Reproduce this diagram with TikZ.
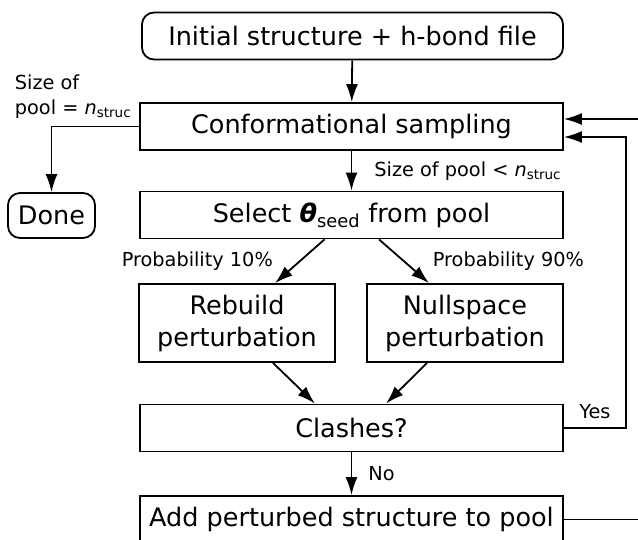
\documentclass[tikz,border=0pt]{standalone}
\usepackage{fontspec}
\setmainfont{DejaVu Sans}
\usetikzlibrary{arrows.meta}

\begin{document}
\begin{tikzpicture}[x=1pt,y=-1pt,line width=1.8pt,
  >={Latex[length=18pt,width=12pt]},
  box/.style={draw,minimum width=423pt,minimum height=47pt,inner sep=0pt,
    font=\fontsize{25.5}{32}\selectfont},
  rbox/.style={box,rounded corners=12pt},
  lbl/.style={inner sep=0pt,font=\fontsize{19.3}{25}\selectfont}]

\clip (0,0) rectangle (638,539);

%Boxes
\node[rbox,minimum width=421pt] (init) at (352.5,36) {Initial structure + h-bond file};
\node[box] (conf) at (351.5,126.5) {Conformational sampling};
\node[rbox,minimum width=87pt,minimum height=45pt] (done) at (51.5,215.5) {Done};
\node[box] (sel) at (351.5,215) {Select \textbf{\textit{θ}}\textsubscript{seed} from pool};
\node[box,minimum width=196pt,minimum height=78pt,align=center] (rebuild) at (237,323) {Rebuild\\perturbation};
\node[box,minimum width=196pt,minimum height=78pt,align=center] (null) at (465,323) {Nullspace\\perturbation};
\node[box] (clash) at (351.5,428) {Clashes?};
\node[box] (add) at (351.5,519.5) {Add perturbed structure to pool};

%Arrows
\draw[->] (init) -- (conf);
\draw[->] (conf) -- node[lbl,right=22pt]{Size of pool < \textit{n}\textsubscript{struc}} (sel);
\draw[->] (conf.west) -| (done.north);
\node[lbl,align=left,anchor=west] (full) at (14,97) {Size of\\pool = \textit{n}\textsubscript{struc}};

\draw[->] ([xshift=-27pt]sel.south) -- node[lbl,left=26pt]{Probability 10\%} ([xshift=38pt]rebuild.north);
\draw[->] ([xshift=27.5pt]sel.south) -- node[lbl,right=28pt]{Probability 90\%} ([xshift=-36pt]null.north);
\draw[->] ([xshift=36pt]rebuild.south) -- ([xshift=-36.5pt]clash.north);
\draw[->] ([xshift=-38pt]null.south) -- ([xshift=34.5pt]clash.north);
\draw[->] (clash) -- node[lbl,right=16pt]{No} (add);

%Loops back
\coordinate (inner) at (626,0);
\coordinate (outer) at (660,0);
\draw[->] (clash.east) -- node[lbl,above=8pt]{Yes} (clash.east -| inner) |- ([yshift=-10.5pt]conf.east);
\draw[->] (add.east) -- (add.east -| outer) |- ([yshift=7.5pt]conf.east);

\end{tikzpicture}
\end{document}
